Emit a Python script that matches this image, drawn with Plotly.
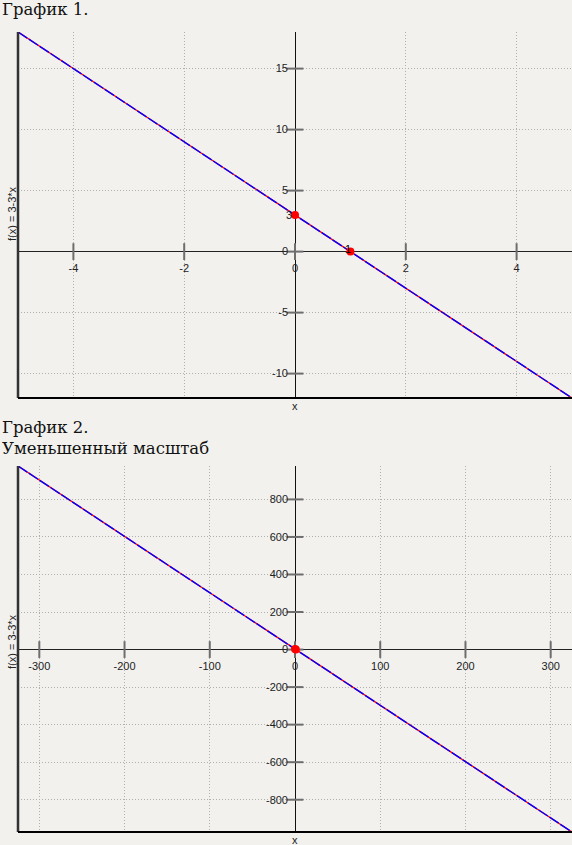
import plotly.graph_objects as go

# f(x) = 3 - 3x, sampled at the ends of each view
x_full = [-5, 5]
y_full = [18, -12]
x_wide = [-325, 325]
y_wide = [978, -972]

# special points: y-intercept and root
pts_x = [0, 1]
pts_y = [3, 0]

# axis ranges and ticks for each panel
x1_range = [-5, 5]
y1_range = [-12, 18]
x1_ticks = [-4, -2, 0, 2, 4]
y1_ticks = [-10, -5, 0, 5, 10, 15]

x2_range = [-325, 325]
y2_range = [-972, 978]
x2_ticks = [-300, -200, -100, 0, 100, 200, 300]
y2_ticks = [-800, -600, -400, -200, 0, 200, 400, 600, 800]

W, H = 572, 845
BG = "#f2f1ee"
TICK_FONT = dict(family="Liberation Sans, Arial, sans-serif", size=11, color="#222222")
TITLE_FONT = dict(family="DejaVu Serif, serif", size=16.5, color="#111111")

x_dom = [18 / W, 1.0]
y1_dom = [1 - 398 / H, 1 - 32 / H]
y2_dom = [1 - 832 / H, 1 - 466 / H]


def frac(v, rng):
    return (v - rng[0]) / (rng[1] - rng[0])


def pos(v, rng, dom):
    return dom[0] + frac(v, rng) * (dom[1] - dom[0])


fig = go.Figure()


def add_panel(xs, ys, xt, yt, xa, ya):
    # function line: red stroke underneath a broken blue stroke
    fig.add_trace(go.Scatter(x=xs, y=ys, mode="lines", xaxis=xa, yaxis=ya,
                             line=dict(color="#ff0000", width=1.4),
                             hoverinfo="skip", showlegend=False))
    fig.add_trace(go.Scatter(x=xs, y=ys, mode="lines", xaxis=xa, yaxis=ya,
                             line=dict(color="#0000ff", width=1.4, dash="11px,2px"),
                             hoverinfo="skip", showlegend=False))
    # tick marks crossing the zero axes
    fig.add_trace(go.Scatter(x=xt, y=[0] * len(xt), mode="markers", xaxis=xa, yaxis=ya,
                             marker=dict(symbol="line-ns", size=12,
                                         line=dict(color="#6e6e6e", width=2)),
                             hoverinfo="skip", showlegend=False))
    fig.add_trace(go.Scatter(x=[0] * len(yt), y=yt, mode="markers", xaxis=xa, yaxis=ya,
                             marker=dict(symbol="line-ew", size=12,
                                         line=dict(color="#6e6e6e", width=2)),
                             hoverinfo="skip", showlegend=False))
    # intercept and root
    fig.add_trace(go.Scatter(x=pts_x, y=pts_y, mode="markers", xaxis=xa, yaxis=ya,
                             marker=dict(color="#ff0000", size=8),
                             hoverinfo="skip", showlegend=False))


add_panel(x_full, y_full, x1_ticks, y1_ticks, "x", "y")
add_panel(x_wide, y_wide, x2_ticks, y2_ticks, "x2", "y2")


def labels(ticks):
    return [str(v) for v in ticks]


def xaxis(rng, ticks, ydom, yrng):
    return dict(domain=x_dom, range=rng, anchor="free",
                position=pos(0, yrng, ydom),
                tickvals=ticks, ticktext=labels(ticks), ticks="", showline=False,
                showgrid=True, gridcolor="#b0b0b0", griddash="1px,2px", gridwidth=1,
                zeroline=True, zerolinecolor="#111111", zerolinewidth=1.2,
                tickfont=TICK_FONT, ticklabelstandoff=8, fixedrange=True)


def yaxis(rng, ticks, dom, xrng):
    return dict(domain=dom, range=rng, anchor="free",
                position=pos(0, xrng, x_dom),
                tickvals=ticks, ticktext=labels(ticks), ticks="", showline=False,
                showgrid=True, gridcolor="#b0b0b0", griddash="1px,2px", gridwidth=1,
                zeroline=True, zerolinecolor="#222222", zerolinewidth=1.2,
                tickfont=TICK_FONT, ticklabelstandoff=7, fixedrange=True)


fig.update_layout(
    width=W, height=H, autosize=False,
    margin=dict(l=0, r=0, t=0, b=0),
    paper_bgcolor=BG, plot_bgcolor=BG,
    xaxis=xaxis(x1_range, x1_ticks, y1_dom, y1_range),
    yaxis=yaxis(y1_range, y1_ticks, y1_dom, x1_range),
    xaxis2=xaxis(x2_range, x2_ticks, y2_dom, y2_range),
    yaxis2=yaxis(y2_range, y2_ticks, y2_dom, x2_range),
)

# left and bottom frame of each panel
for xr, yr in (("x domain", "y domain"), ("x2 domain", "y2 domain")):
    fig.add_shape(type="line", xref=xr, yref=yr, x0=0, x1=0, y0=0, y1=1,
                  line=dict(color="#333333", width=2.5))
    fig.add_shape(type="line", xref=xr, yref=yr, x0=0, x1=1, y0=0, y1=0,
                  line=dict(color="#000000", width=2))

ann = []
# titles
ann.append(dict(text="График 1.", xref="paper", yref="paper", x=0, y=1 + 2 / H,
                xanchor="left", yanchor="top", showarrow=False, font=TITLE_FONT))
ann.append(dict(text="График 2.<br>Уменьшенный масштаб", xref="paper", yref="paper",
                x=0, y=1 - 416 / H, xanchor="left", yanchor="top", showarrow=False,
                align="left", font=TITLE_FONT))
# axis names
for ydom in (y1_dom, y2_dom):
    ann.append(dict(text="x", xref="paper", yref="paper", x=pos(0, x1_range, x_dom),
                    y=ydom[0], yshift=-8, xanchor="center", yanchor="middle",
                    showarrow=False, font=TICK_FONT))
ann.append(dict(text="f(x) = 3-3*x", xref="paper", yref="paper", x=12 / W,
                y=1 - 214 / H, textangle=-90, xanchor="center", yanchor="middle",
                showarrow=False, font=TICK_FONT))
ann.append(dict(text="f(x) = 3-3*x", xref="paper", yref="paper", x=12 / W,
                y=1 - 642 / H, textangle=-90, xanchor="center", yanchor="middle",
                showarrow=False, font=TICK_FONT))
# labels at the intercept and root
ann.append(dict(text=str(pts_y[0]), x=pts_x[0], y=pts_y[0], xref="x", yref="y",
                xanchor="right", yanchor="middle", xshift=-1, showarrow=False,
                font=TICK_FONT))
ann.append(dict(text=str(pts_x[1]), x=pts_x[1], y=pts_y[1], xref="x", yref="y",
                xanchor="center", yanchor="middle", xshift=-2, yshift=3,
                showarrow=False, font=dict(TICK_FONT, color="#000000")))
fig.update_layout(annotations=ann)

fig.write_html("out.html")
